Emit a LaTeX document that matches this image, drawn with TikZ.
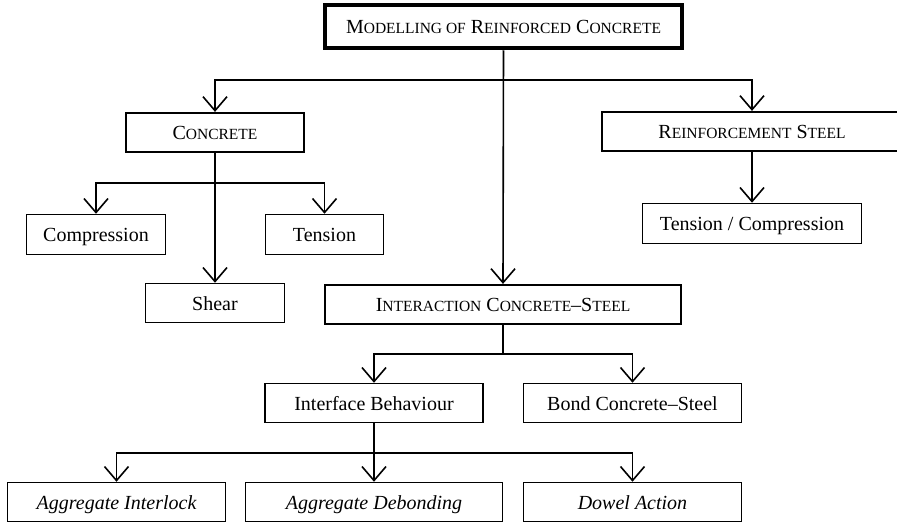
\documentclass[tikz,border=0pt]{standalone}
\usepackage{fontspec}
\setmainfont{Liberation Serif}
\usetikzlibrary{arrows.meta}
\newcommand\smc[1]{{\fontsize{15.5}{18}\selectfont #1}}
\begin{document}
\begin{tikzpicture}[x=1pt,y=-1pt,
  box/.style={draw, line width=1.5pt, inner sep=0pt, align=center,
    text height=16.5pt, text depth=2pt,
    font=\fontsize{20}{24}\selectfont},
  midbox/.style={box, line width=2.2pt},
  topbox/.style={box, line width=4.5pt},
  conn/.style={line width=1.6pt},
  arr/.style={conn, -{Straight Barb[length=14pt,width=24pt,line width=1.6pt]}}]
\useasboundingbox (0,0) rectangle (897,525);
% nodes
\node[topbox, minimum width=357pt, minimum height=43pt] (top) at (503.5,26.5)
  {M\smc{ODELLING OF} R\smc{EINFORCED} C\smc{ONCRETE}};
\node[midbox, minimum width=178pt, minimum height=39pt] (concrete) at (215,132.5)
  {C\smc{ONCRETE}};
\node[midbox, minimum width=300pt, minimum height=39pt] (reinf) at (752,131.5)
  {R\smc{EINFORCEMENT} S\smc{TEEL}};
\node[box, minimum width=139pt, minimum height=40pt] (comp) at (96,234.5) {Compression};
\node[box, minimum width=118pt, minimum height=40pt] (tens) at (324.5,234.5) {Tension};
\node[box, minimum width=219pt, minimum height=40pt] (tc) at (752,223.5) {Tension / Compression};
\node[box, minimum width=139pt, minimum height=39pt] (shear) at (215,303) {Shear};
\node[midbox, minimum width=356pt, minimum height=39pt] (inter) at (503,304.5)
  {I\smc{NTERACTION} C\smc{ONCRETE}–S\smc{TEEL}};
\node[box, minimum width=218pt, minimum height=39pt] (iface) at (374,403) {Interface Behaviour};
\node[box, minimum width=218pt, minimum height=39pt] (bond) at (632.5,403) {Bond Concrete–Steel};
\node[box, minimum width=218pt, minimum height=39pt] (aint) at (116.5,502) {\itshape Aggregate Interlock};
\node[box, minimum width=257pt, minimum height=39pt] (adeb) at (374,502) {\itshape Aggregate Debonding};
\node[box, minimum width=218pt, minimum height=39pt] (dowel) at (632.5,502) {\itshape Dowel Action};
% junctions
\coordinate (j1) at (503.5,80);
\coordinate (j2) at (215,183);
\coordinate (j3) at (503,354);
\coordinate (j4) at (374,453);
% connectors
\draw[arr] (top.south) -- (inter.north);
\draw[arr] (j1) -| (concrete.north);
\draw[arr] (j1) -| (reinf.north);
\draw[arr] (concrete.south) -- (shear.north);
\draw[arr] (j2) -| (comp.north);
\draw[arr] (j2) -| (tens.north);
\draw[arr] (reinf.south) -- (tc.north);
\draw[conn] (inter.south) -- (j3);
\draw[arr] (j3) -| (iface.north);
\draw[arr] (j3) -| (bond.north);
\draw[arr] (iface.south) -- (adeb.north);
\draw[arr] (j4) -| (aint.north);
\draw[arr] (j4) -| (dowel.north);
\end{tikzpicture}
\end{document}
